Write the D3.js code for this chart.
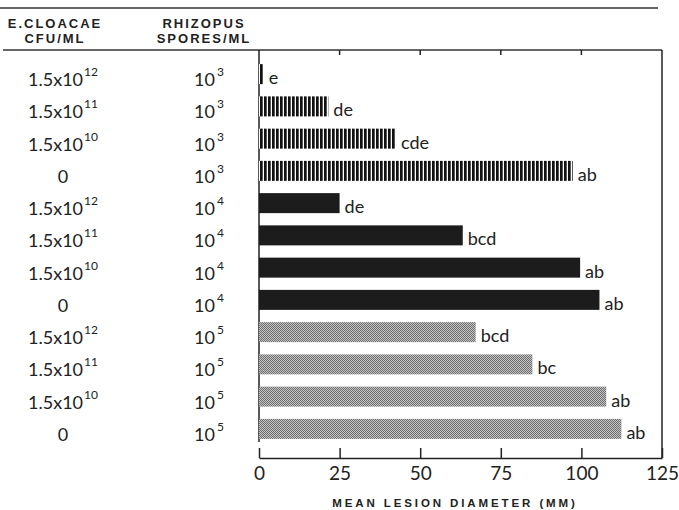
<!DOCTYPE html>
<html>
<head>
<meta charset="utf-8">
<script src="https://cdn.jsdelivr.net/npm/d3@7"></script>
<style>
  body { margin: 0; background: #fff; }
  svg { display: block; }
  .hdr { font-family: "Liberation Sans", Arial, sans-serif; font-weight: bold; font-size: 13px; letter-spacing: 2px; fill: #222; }
  .row { font-family: Lato, "Noto Sans", sans-serif; font-size: 18px; fill: #222; }
  .sig { font-family: Lato, "Noto Sans", sans-serif; font-size: 18px; fill: #222; }
  .tick text { font-family: Lato, "Noto Sans", sans-serif; font-size: 19px; fill: #222; }
  .xTitle { font-family: "Liberation Sans", Arial, sans-serif; font-weight: bold; font-size: 11.5px; letter-spacing: 2.9px; fill: #222; }
</style>
</head>
<body>
<div id="chart"></div>
<script>
var width = 679;
var height = 510;

// data, top row first
var cfuExp = [12, 11, 10, null, 12, 11, 10, null, 12, 11, 10, null]; // null = 0 cfu/ml
var sporeExp = [3, 3, 3, 3, 4, 4, 4, 4, 5, 5, 5, 5];
var lesion = [1.5, 21.5, 42.5, 97.3, 25, 63.2, 99.6, 105.6, 67.2, 84.8, 107.7, 112.4];
var letters = ["e", "de", "cde", "ab", "de", "bcd", "ab", "ab", "bcd", "bc", "ab", "ab"];
var xTicks = [0, 25, 50, 75, 100, 125];

var rows = d3.range(lesion.length);

var svg = d3.select("#chart").append("svg")
    .attr("width", width)
    .attr("height", height);

// fill patterns for the three spore levels
var defs = svg.append("defs");

var stripes = defs.append("pattern")
    .attr("id", "stripes")
    .attr("patternUnits", "userSpaceOnUse")
    .attr("width", 4).attr("height", 4);
stripes.append("rect").attr("width", 4).attr("height", 4).attr("fill", "#fff");
stripes.append("rect").attr("width", 2.7).attr("height", 4).attr("fill", "#111");

var stipple = defs.append("pattern")
    .attr("id", "stipple")
    .attr("patternUnits", "userSpaceOnUse")
    .attr("width", 2).attr("height", 2);
stipple.append("rect").attr("width", 2).attr("height", 2).attr("fill", "#c4c4c4");
stipple.append("rect").attr("width", 1).attr("height", 1).attr("fill", "#6e6e6e");
stipple.append("rect").attr("x", 1).attr("y", 1).attr("width", 1).attr("height", 1).attr("fill", "#6e6e6e");

function fillFor(exp) {
    if (exp === 3) return "url(#stripes)";
    if (exp === 4) return "#1c1c1c";
    return "url(#stipple)";
}

var x = d3.scaleLinear().domain([0, 125]).range([259, 662]);
var y = d3.scalePoint().domain(rows).range([58, 445]).padding(0.5);
var barH = 20;

// rules at the top
svg.append("line")
    .attr("x1", 0).attr("x2", 658).attr("y1", 8).attr("y2", 8)
    .attr("stroke", "#333").attr("stroke-width", 1.5);
svg.append("line")
    .attr("x1", 3).attr("x2", x(125)).attr("y1", 50).attr("y2", 50)
    .attr("stroke", "#333").attr("stroke-width", 1.5);

// column headings
var heads = [
    { cx: 55, lines: ["E.CLOACAE", "CFU/ML"] },
    { cx: 204, lines: ["RHIZOPUS", "SPORES/ML"] }
];
heads.forEach(function(h) {
    h.lines.forEach(function(t, i) {
        svg.append("text")
            .attr("class", "hdr")
            .attr("x", h.cx)
            .attr("y", 28 + i * 15)
            .attr("text-anchor", "middle")
            .text(t);
    });
});

// frame: left, right, top ticks
svg.append("line")
    .attr("x1", x(0)).attr("x2", x(0)).attr("y1", 50).attr("y2", 442)
    .attr("stroke", "#222").attr("stroke-width", 1.5);
svg.append("line")
    .attr("x1", x(125)).attr("x2", x(125)).attr("y1", 50).attr("y2", 458)
    .attr("stroke", "#222").attr("stroke-width", 1.5);
svg.selectAll(".topTick")
    .data([25, 50, 75, 100])
    .enter().append("line")
    .attr("class", "topTick")
    .attr("x1", function(d) { return x(d); })
    .attr("x2", function(d) { return x(d); })
    .attr("y1", 50).attr("y2", 55)
    .attr("stroke", "#222").attr("stroke-width", 1.5);

// bars
svg.selectAll(".bar")
    .data(rows)
    .enter().append("rect")
    .attr("class", "bar")
    .attr("x", x(0))
    .attr("y", function(i) { return y(i) - barH / 2; })
    .attr("width", function(i) { return x(lesion[i]) - x(0); })
    .attr("height", barH)
    .attr("fill", function(i) { return fillFor(sporeExp[i]); });

// significance letters
svg.selectAll(".sig")
    .data(rows)
    .enter().append("text")
    .attr("class", "sig")
    .attr("x", function(i) { return x(lesion[i]) + 5; })
    .attr("y", function(i) { return y(i) + 10; })
    .text(function(i) { return letters[i]; });

// E. cloacae column
var cfu = svg.selectAll(".cfu")
    .data(rows)
    .enter().append("text")
    .attr("class", "row cfu")
    .attr("x", 63)
    .attr("y", function(i) { return y(i) + 12; })
    .attr("text-anchor", "middle");
cfu.each(function(i) {
    var t = d3.select(this);
    if (cfuExp[i] === null) {
        t.text("0");
    } else {
        t.append("tspan").text("1.5x10");
        t.append("tspan").attr("dx", 1).attr("dy", -10).attr("font-size", 12).text(cfuExp[i]);
    }
});

// Rhizopus column
var spo = svg.selectAll(".spo")
    .data(rows)
    .enter().append("text")
    .attr("class", "row spo")
    .attr("x", 209)
    .attr("y", function(i) { return y(i) + 12; })
    .attr("text-anchor", "middle");
spo.append("tspan").text("10");
spo.append("tspan").attr("dx", 2).attr("dy", -10).attr("font-size", 12).text(function(i) { return sporeExp[i]; });

// bottom axis
var xAxis = d3.axisBottom(x)
    .tickValues(xTicks)
    .tickSizeInner(-10)
    .tickSizeOuter(0)
    .tickPadding(9)
    .tickFormat(d3.format("d"));

var gx = svg.append("g")
    .attr("transform", "translate(0," + 458 + ")")
    .call(xAxis);
gx.select(".domain").attr("stroke", "#222").attr("stroke-width", 1.5);
gx.selectAll(".tick line").attr("stroke", "#222").attr("stroke-width", 1.5);

svg.append("text")
    .attr("class", "xTitle")
    .attr("x", 455)
    .attr("y", 507)
    .attr("text-anchor", "middle")
    .text("MEAN LESION DIAMETER (MM)");
</script>
</body>
</html>
